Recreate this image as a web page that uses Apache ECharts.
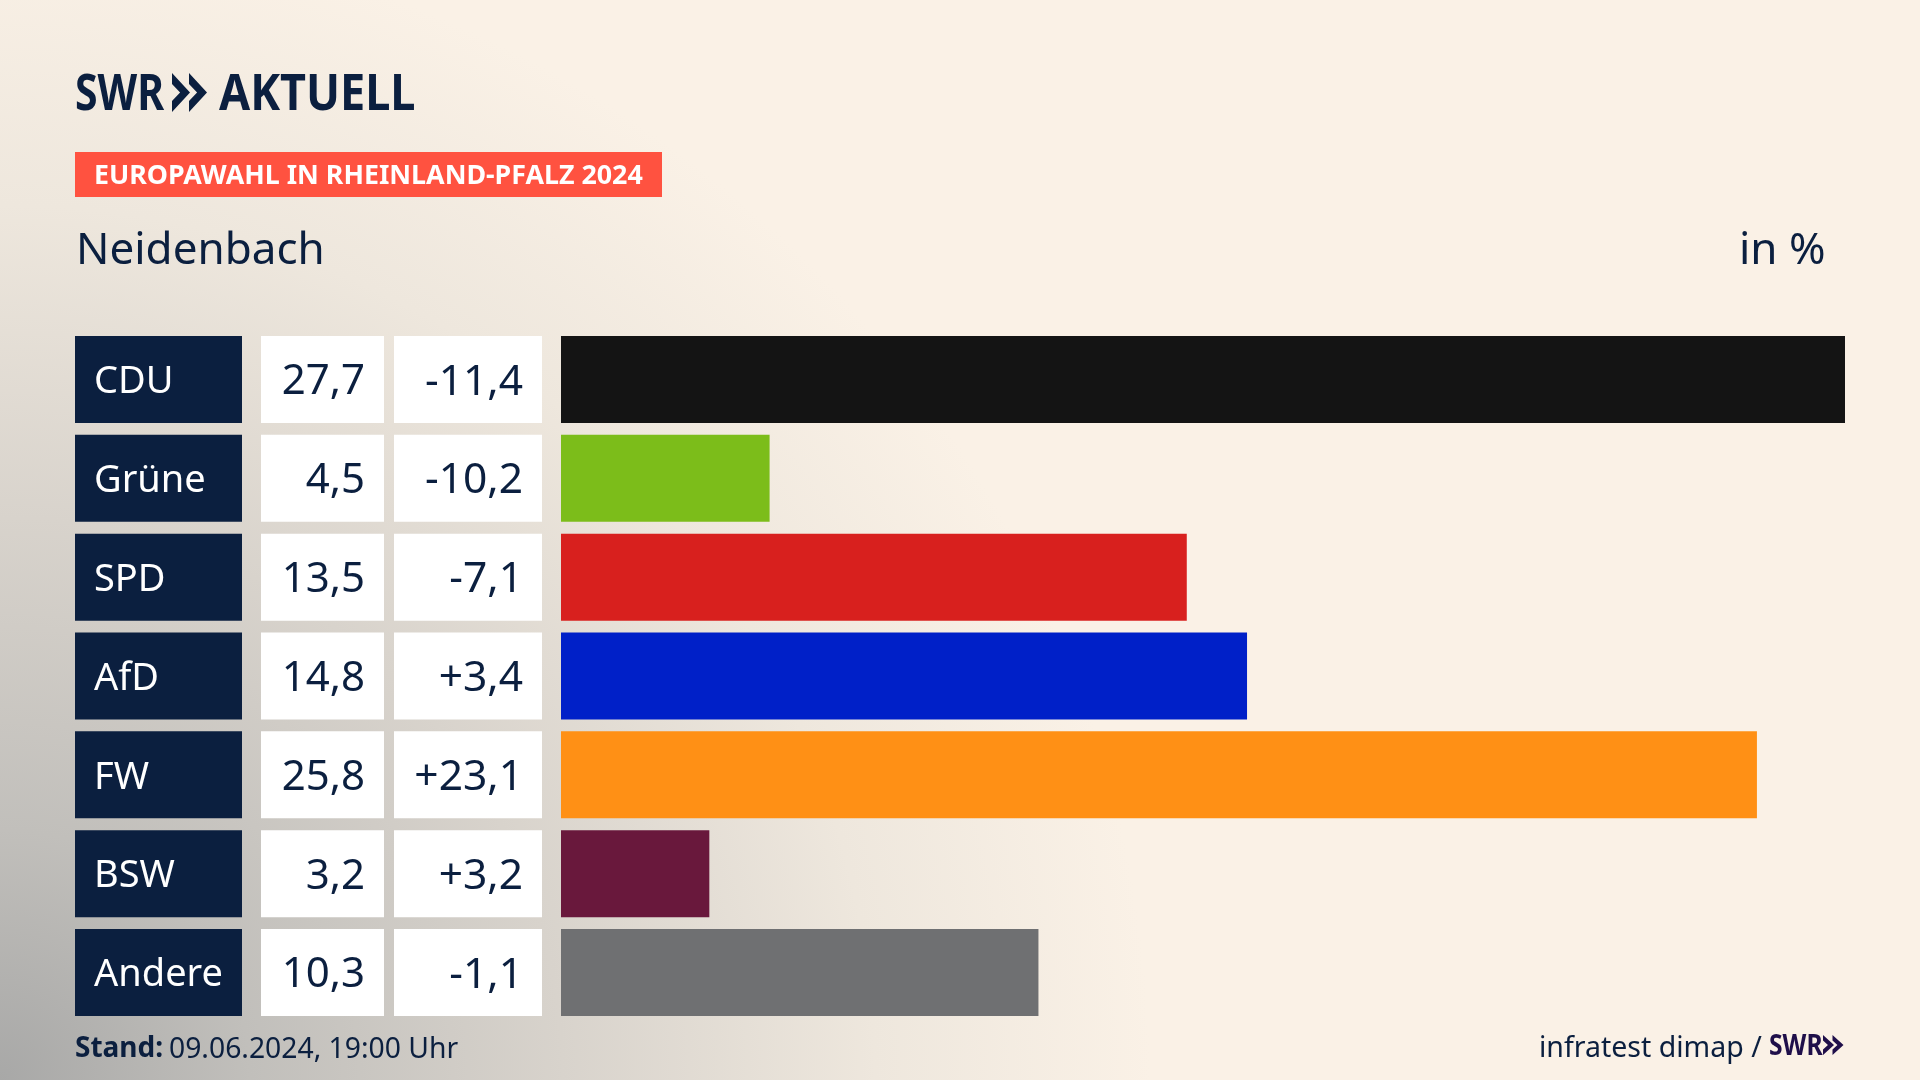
<!DOCTYPE html>
<html><head><meta charset="utf-8">
<style>html,body{margin:0;padding:0;background:#faf1e6}#c{width:1920px;height:1080px}</style>
<script src="https://cdn.jsdelivr.net/npm/echarts@6/dist/echarts.min.js"></script>
</head><body><div id="c"></div>
<script>
const parties = ['CDU','Grüne','SPD','AfD','FW','BSW','Andere'];
const shares = [27.7,4.5,13.5,14.8,25.8,3.2,10.3];
const changes = [-11.4,-10.2,-7.1,3.4,23.1,3.2,-1.1];
const partyColors = ['#141414','#7cbd1a','#d8201e','#0020c8','#ff9015','#69183c','#6f7072'];
const kicker = 'EUROPAWAHL IN RHEINLAND-PFALZ 2024';
const place = 'Neidenbach';
const unit = 'in %';
const standLabel = 'Stand:';
const standValue = '09.06.2024, 19:00 Uhr';
const source = 'infratest dimap /';

const FONT = '"Noto Sans"';
const NAVY = '#0b1f3f';
const de = v => v.toFixed(1).replace('.', ',');
const signed = v => (v > 0 ? '+' : '') + de(v);

const chevrons = (x, top, h, w, gap, fill) => [0, 1].map(i => {
  const x0 = x + i * gap, mid = top + h / 2;
  return { type: 'polygon', silent: true, z: 5, style: { fill },
    shape: { points: [[x0, top], [x0 + w, mid], [x0, top + h], [x0, top + h * 0.72], [x0 + w * 0.45, mid], [x0, top + h * 0.28]] } };
});
const txt = (x, y, text, font, fill, scaleX) => ({ type: 'text', silent: true, z: 5, x, y, scaleX: scaleX || 1,
  style: { text, font, fill, verticalAlign: 'middle', align: 'left' } });

const cell = (margin, align, width, padding, color, backgroundColor, fontSize) => ({
  interval: 0, margin, align, width, height: 71, padding, backgroundColor,
  formatter: v => '{t|' + v + '}',
  rich: { t: { fontFamily: FONT, fontSize, color, align, lineHeight: 56, padding: [5, 0, 0, 0] } }
});

const chart = echarts.init(document.getElementById('c'), null, { renderer: 'canvas' });
chart.setOption({
  animation: false,
  grid: { left: 561, top: 330.1, width: 1284, height: 691.8, containLabel: false },
  xAxis: { type: 'value', min: 0, max: 27.7, show: false },
  yAxis: [
    { type: 'category', inverse: true, data: parties, position: 'left',
      axisLine: { show: false }, axisTick: { show: false },
      axisLabel: cell(486, 'left', 148, [16, 0, 0, 19], '#fff', NAVY, 38) },
    { type: 'category', inverse: true, data: shares.map(de), position: 'left',
      axisLine: { show: false }, axisTick: { show: false },
      axisLabel: cell(177, 'right', 104, [16, 19, 0, 0], NAVY, '#fff', 42) },
    { type: 'category', inverse: true, data: changes.map(signed), position: 'left',
      axisLine: { show: false }, axisTick: { show: false },
      axisLabel: cell(19, 'right', 129, [16, 19, 0, 0], NAVY, '#fff', 42.5) }
  ],
  series: [{ type: 'bar', yAxisIndex: 0, barWidth: 87, silent: true,
    data: shares.map((v, i) => ({ value: v, itemStyle: { color: partyColors[i] } })) }],
  graphic: { elements: [
    { type: 'rect', silent: true, z: -10, shape: { x: 0, y: 0, width: 1920, height: 1080 },
      style: { fill: { type: 'radial', x: 0, y: 1080, r: 1250, global: true, colorStops: [
        { offset: 0, color: '#a8a8a7' }, { offset: 0.2, color: '#c1bfbb' }, { offset: 0.45, color: '#d8d3cc' },
        { offset: 0.7, color: '#eee7dd' }, { offset: 0.92, color: '#faf1e6' }, { offset: 1, color: '#faf1e6' }] } } },
    txt(75, 95.5, 'SWR', 'bold 50px ' + FONT, NAVY, 0.82),
    ...chevrons(172, 73, 39, 18, 17, NAVY),
    txt(219, 95.5, 'AKTUELL', 'bold 50px ' + FONT, NAVY, 0.9),
    { type: 'rect', silent: true, z: 4, shape: { x: 75, y: 152, width: 587, height: 45 }, style: { fill: '#ff5240' } },
    txt(94, 176.5, kicker, 'bold 26.8px ' + FONT, '#fff'),
    txt(76, 251.5, place, '44px ' + FONT, NAVY),
    txt(1739, 251.5, unit, '44px ' + FONT, NAVY),
    txt(75, 1049.5, standLabel, 'bold 28px ' + FONT, NAVY),
    txt(169, 1049.5, standValue, '28.3px ' + FONT, NAVY),
    txt(1539, 1048.5, source, '28.5px ' + FONT, NAVY),
    txt(1769, 1047, 'SWR', 'bold 28px ' + FONT, '#1f0f4a', 0.88),
    ...chevrons(1823, 1035, 20, 11, 9.5, '#1f0f4a')
  ] }
});
</script></body></html>
